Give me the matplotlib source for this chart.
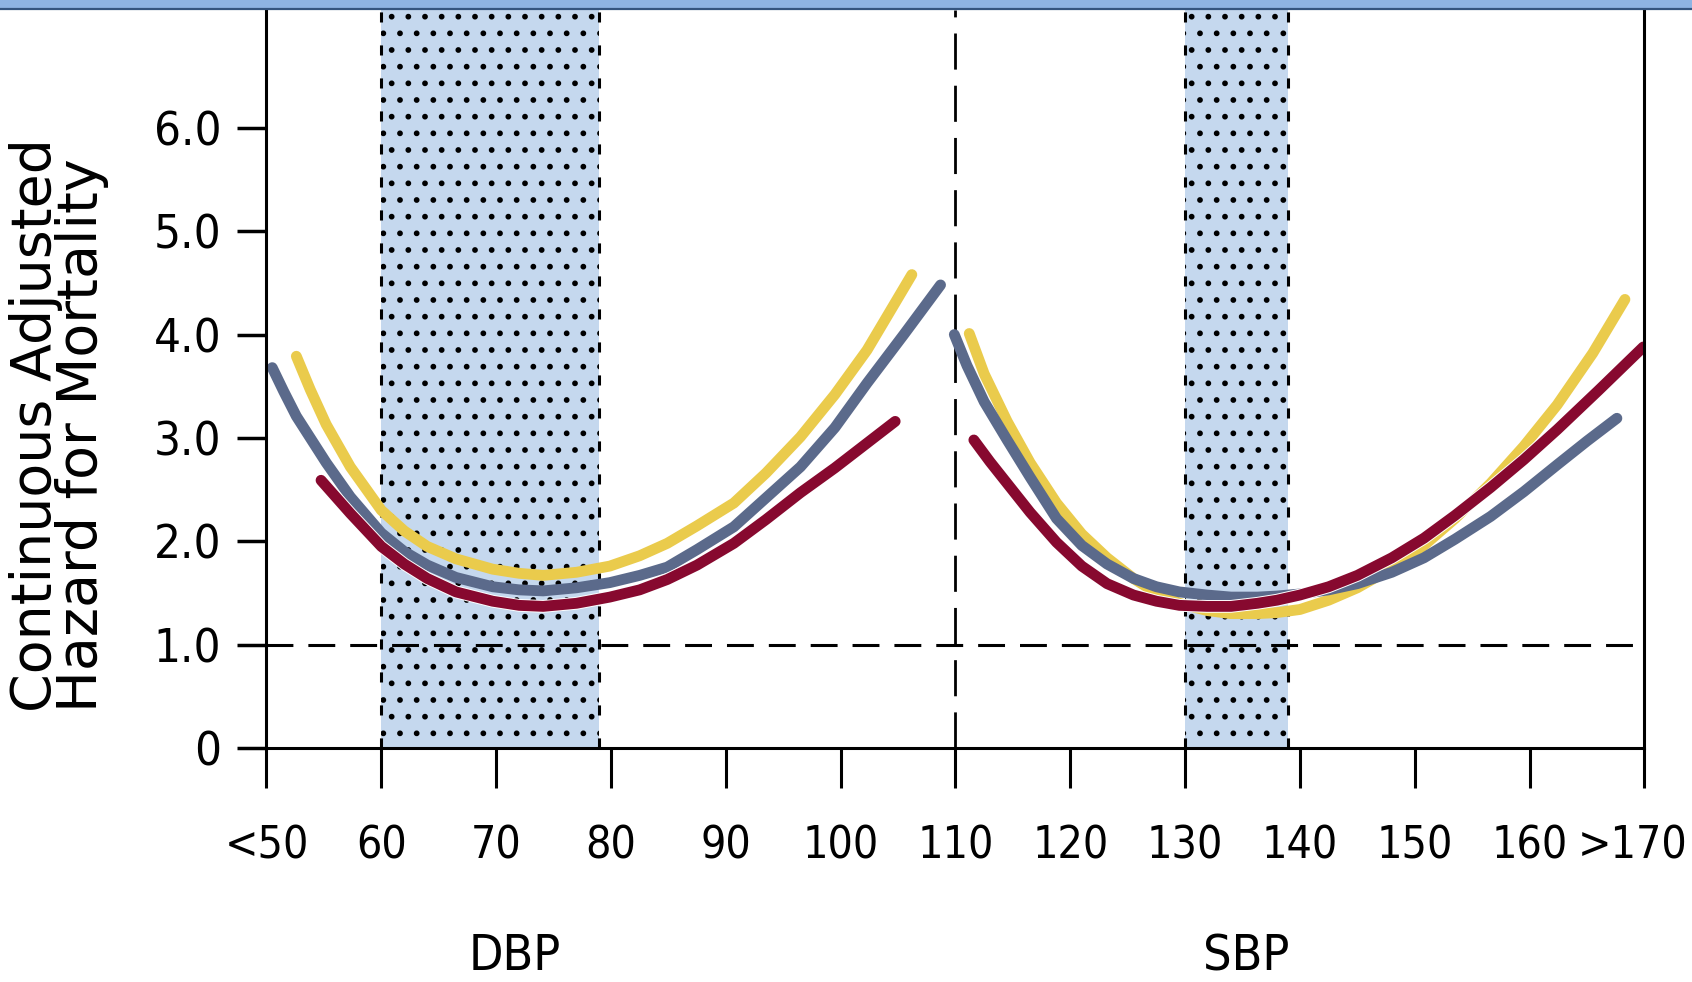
import matplotlib
matplotlib.use('Agg')
import matplotlib.pyplot as plt
import matplotlib.patheffects as pe
from matplotlib import font_manager as fm
from matplotlib.patches import Rectangle
from matplotlib.transforms import ScaledTranslation

# x axis runs DBP 50..110 then SBP 110..170 on one scale
tick_pos = [50, 60, 70, 80, 90, 100, 110, 120, 130, 140, 150, 160, 170]
tick_lab = ['<50', '60', '70', '80', '90', '100', '110', '120', '130', '140', '150', '160', '>170']
y_ticks = [0, 1, 2, 3, 4, 5, 6]
y_lab = ['0', '1.0', '2.0', '3.0', '4.0', '5.0', '6.0']

dbp_band = (60, 79)
sbp_band = (130, 139)

# DBP curves
dbp_gray_x = [50.5, 51.5, 52.6, 55.2, 57.3, 60, 62, 64, 66.5, 69.7, 72, 74.1, 77, 79.9,
              82.5, 84.9, 87.5, 90.7, 93.5, 96.5, 99.5, 102.3, 105.5, 108.7]
dbp_gray_y = [3.68, 3.45, 3.21, 2.76, 2.43, 2.08, 1.90, 1.77, 1.65, 1.56, 1.53, 1.52, 1.55, 1.60,
              1.67, 1.75, 1.92, 2.14, 2.42, 2.72, 3.10, 3.53, 4.00, 4.48]
dbp_yel_x = [52.6, 53.8, 55.2, 57.3, 60, 62, 64, 66.5, 69.7, 72, 74.1, 77, 79.9,
             82.5, 84.9, 87.5, 90.7, 93.5, 96.5, 99.5, 102.3, 106.2]
dbp_yel_y = [3.79, 3.47, 3.13, 2.72, 2.30, 2.10, 1.95, 1.83, 1.73, 1.69, 1.67, 1.70, 1.76,
             1.86, 1.98, 2.15, 2.37, 2.66, 3.01, 3.42, 3.85, 4.58]
dbp_red_x = [54.75, 57.3, 60, 62, 64, 66.5, 69.7, 72, 74.1, 77, 79.9, 82.5, 84.9, 87.5,
             90.7, 93.5, 96.5, 99.5, 102.3, 104.75]
dbp_red_y = [2.59, 2.27, 1.95, 1.78, 1.64, 1.51, 1.42, 1.38, 1.37, 1.40, 1.46, 1.53, 1.63, 1.77,
             1.98, 2.21, 2.47, 2.71, 2.95, 3.16]

# SBP curves
sbp_gray_x = [109.9, 111.0, 112.5, 114.5, 116.5, 118.8, 121, 123.2, 125.5, 127.5, 129.5, 131.9, 134,
              136.3, 138, 140, 142.5, 145, 148, 150.8, 153.5, 156.6, 159.5, 162.4, 165, 167.6]
sbp_gray_y = [4.00, 3.70, 3.35, 2.98, 2.62, 2.22, 1.96, 1.78, 1.64, 1.56, 1.51, 1.48, 1.46,
              1.46, 1.47, 1.49, 1.53, 1.59, 1.70, 1.84, 2.02, 2.24, 2.48, 2.74, 2.97, 3.19]
sbp_yel_x = [111.2, 112.5, 114.5, 116.5, 118.8, 121, 123.2, 125.5, 127.5, 129.5, 131.9, 134, 136.3,
             138, 140, 142.5, 145, 148, 150.8, 153.5, 156.6, 159.5, 162.4, 165.5, 168.3]
sbp_yel_y = [4.01, 3.62, 3.16, 2.76, 2.37, 2.07, 1.84, 1.64, 1.50, 1.40, 1.33, 1.30, 1.30,
             1.31, 1.34, 1.43, 1.55, 1.74, 1.96, 2.22, 2.56, 2.92, 3.32, 3.82, 4.34]
sbp_red_x = [111.6, 113, 114.5, 116.5, 118.8, 121, 123.2, 125.5, 127.5, 129.5, 131.9, 134, 136.3,
             138, 140, 142.5, 145, 148, 150.8, 153.5, 156.6, 159.5, 162.4, 166, 169.9]
sbp_red_y = [2.98, 2.77, 2.56, 2.28, 1.99, 1.76, 1.59, 1.48, 1.42, 1.38, 1.37, 1.37, 1.40,
             1.43, 1.48, 1.56, 1.67, 1.84, 2.03, 2.25, 2.52, 2.79, 3.08, 3.46, 3.88]

YELLOW = '#EACB4C'
GRAY = '#5B6A8B'
RED = '#87092F'
BAND = '#C5D8EE'

# condensed face for the numbers, if there is one
names = {f.name for f in fm.fontManager.ttflist}
if 'Liberation Sans Narrow' in names:
    narrow = dict(family='Liberation Sans Narrow')
    xsize, ysize = 38, 38
elif any(f.name == 'DejaVu Sans' and f.stretch == 'condensed' for f in fm.fontManager.ttflist):
    narrow = dict(family='DejaVu Sans', stretch='condensed')
    xsize, ysize = 32, 34
else:
    narrow = dict(family='Liberation Sans')
    xsize, ysize = 31, 33

plt.rcParams['hatch.linewidth'] = 1.7

fig = plt.figure(figsize=(16.92, 9.82), dpi=100)
ax = fig.add_axes([0.1575, 0.2383, 0.8144, 0.7515])

# header strip
fig.patches.append(Rectangle((0, 0.9898), 1, 0.0102, transform=fig.transFigure,
                             facecolor='#8EB4E3', edgecolor='none', zorder=0))
fig.lines.append(plt.Line2D([0, 1], [0.9908, 0.9908], transform=fig.transFigure,
                            color='#34557F', lw=1.6))

for lo, hi in (dbp_band, sbp_band):
    ax.axvspan(lo, hi, facecolor=BAND, edgecolor='black', hatch='.', linewidth=0, zorder=1)
    for xv in (lo, hi):
        ax.axvline(xv, color='black', lw=2.2, ls=(0, (3.3, 7.5)), zorder=2)

ax.axvline(110, color='black', lw=2.0, ls=(0, (13, 5.8)), zorder=2)
ax.axhline(1.0, color='black', lw=2.2, ls=(0, (8.8, 4.9)), zorder=2)

lw = 7.8
white_edge = [pe.Stroke(linewidth=lw + 1.4, foreground='white'), pe.Normal()]
for xs, ys, c, z in [(dbp_yel_x, dbp_yel_y, YELLOW, 3), (dbp_gray_x, dbp_gray_y, GRAY, 4),
                     (dbp_red_x, dbp_red_y, RED, 5),
                     (sbp_yel_x, sbp_yel_y, YELLOW, 3), (sbp_gray_x, sbp_gray_y, GRAY, 4),
                     (sbp_red_x, sbp_red_y, RED, 5)]:
    line, = ax.plot(xs, ys, color=c, lw=lw, solid_capstyle='round',
                    solid_joinstyle='round', zorder=z)
    if c == RED:
        line.set_path_effects(white_edge)

ax.set_xlim(50, 170)
ax.set_ylim(0, 7.14)
ax.spines['top'].set_visible(False)
for s in ('left', 'right', 'bottom'):
    ax.spines[s].set_linewidth(2.2)
    ax.spines[s].set_zorder(6)

ax.set_xticks(tick_pos)
ax.set_xticklabels(tick_lab, fontsize=xsize, **narrow)
ax.set_yticks(y_ticks)
ax.set_yticklabels(y_lab, fontsize=ysize, **narrow)
ax.tick_params(axis='x', length=28.8, width=2.2, pad=26, direction='out')
ax.tick_params(axis='y', length=21, width=2.5, pad=11.5, direction='out')

# last label sits at the right edge, nudge it inside the canvas
last = ax.xaxis.get_major_ticks()[-1].label1
last.set_transform(last.get_transform() + ScaledTranslation(-0.12, 0, fig.dpi_scale_trans))

fig.text(0.3044, 0.012, 'DBP', ha='center', va='baseline', fontsize=xsize + 4, **narrow)
fig.text(0.7364, 0.012, 'SBP', ha='center', va='baseline', fontsize=xsize + 4, **narrow)
fig.text(0.035, 0.275, 'Continuous Adjusted\nHazard for Mortality', rotation=90,
         ha='center', va='bottom', multialignment='left', fontsize=40,
         family='DejaVu Sans', linespacing=0.8)

fig.savefig('out.png', dpi=100)
